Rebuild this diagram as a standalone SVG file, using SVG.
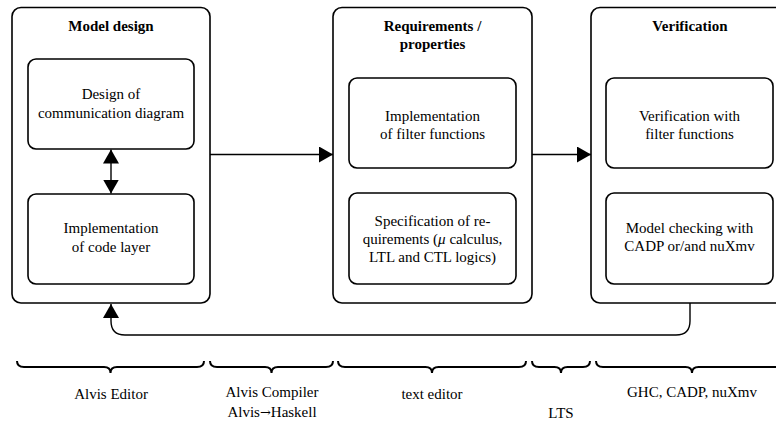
<svg xmlns="http://www.w3.org/2000/svg" width="776" height="422" viewBox="0 0 776 422">
<defs>
<style>
.box{fill:#fff;stroke:#000;stroke-width:1.6}
.conn{fill:none;stroke:#000;stroke-width:1.4}
.brace{fill:none;stroke:#000;stroke-width:2}
text{font-family:"Liberation Serif","Times New Roman",serif;font-size:15px;fill:#000;text-anchor:middle}
.title{font-weight:bold}
.sym{font-family:"DejaVu Serif",serif;font-size:13px}
</style>
<marker id="arr" markerUnits="userSpaceOnUse" markerWidth="14" markerHeight="16" viewBox="0 0 14 16" refX="14" refY="8" orient="auto-start-reverse">
<path d="M0 0 L14 8 L0 16 Z" fill="#000"/>
</marker>
</defs>
<rect width="776" height="422" fill="#fff"/>

<g id="model-design">
<rect class="box" x="12" y="7.5" width="198" height="295.5" rx="9"/>
<text class="title" x="111" y="31">Model design</text>
</g>
<g id="design-comm">
<rect class="box" x="28" y="59" width="166" height="90" rx="8"/>
<text x="111" y="99">Design of</text>
<text x="111" y="118">communication diagram</text>
</g>
<g id="impl-code">
<rect class="box" x="28" y="194" width="166" height="90" rx="8"/>
<text x="111" y="233">Implementation</text>
<text x="111" y="252">of code layer</text>
</g>

<g id="requirements">
<rect class="box" x="333" y="7.5" width="199" height="295.5" rx="9"/>
<text class="title" x="432.5" y="31">Requirements /</text>
<text class="title" x="432.5" y="49">properties</text>
</g>
<g id="impl-filter">
<rect class="box" x="349" y="78" width="167" height="90" rx="8"/>
<text x="432.5" y="121">Implementation</text>
<text x="432.5" y="139">of filter functions</text>
</g>
<g id="spec-req">
<rect class="box" x="349" y="193" width="167" height="91" rx="8"/>
<text x="432.5" y="226">Specification of re-</text>
<text x="432.5" y="244">quirements (<tspan font-style="italic">μ</tspan> calculus,</text>
<text x="432.5" y="262">LTL and CTL logics)</text>
</g>

<g id="verification">
<rect class="box" x="591" y="7.5" width="198" height="295.5" rx="9"/>
<text class="title" x="690" y="31">Verification</text>
</g>
<g id="verif-filter">
<rect class="box" x="606" y="78" width="167" height="90" rx="8"/>
<text x="689.5" y="121">Verification with</text>
<text x="689.5" y="139">filter functions</text>
</g>
<g id="model-checking">
<rect class="box" x="606" y="193" width="167" height="91" rx="8"/>
<text x="689.5" y="233">Model checking with</text>
<text x="689.5" y="251">CADP or/and nuXmv</text>
</g>

<g id="connectors">
<line class="conn" x1="111" y1="149.5" x2="111" y2="193.5" marker-start="url(#arr)" marker-end="url(#arr)"/>
<line class="conn" x1="210" y1="154.5" x2="333" y2="154.5" marker-end="url(#arr)"/>
<line class="conn" x1="532" y1="154.5" x2="591" y2="154.5" marker-end="url(#arr)"/>
<path class="conn" d="M690 303 V321 Q690 335 676 335 H125 Q111 335 111 321 V304" marker-end="url(#arr)"/>
</g>

<g id="braces">
<path class="brace" d="M17 361 Q17 367 24 367 H104 Q110.5 367 110.5 373 Q110.5 367 117 367 H197 Q204 367 204 361"/>
<path class="brace" d="M210 361 Q210 367 217 367 H265 Q271.5 367 271.5 373 Q271.5 367 278 367 H326 Q333 367 333 361"/>
<path class="brace" d="M338 361 Q338 367 345 367 H425.5 Q432 367 432 373 Q432 367 438.5 367 H519 Q526 367 526 361"/>
<path class="brace" d="M532 361 Q532 367 539 367 H554.5 Q561 367 561 373 Q561 367 567.5 367 H583 Q590 367 590 361"/>
<path class="brace" d="M596 361 Q596 367 603 367 H685.5 Q692 367 692 373 Q692 367 698.5 367 H781 Q788 367 788 361"/>
</g>

<g id="labels">
<text x="111" y="399">Alvis Editor</text>
<text x="272" y="397">Alvis Compiler</text>
<text x="272" y="417">Alvis<tspan class="sym">→</tspan>Haskell</text>
<text x="432" y="399">text editor</text>
<text x="561" y="418">LTS</text>
<text x="692" y="397">GHC, CADP, nuXmv</text>
</g>
</svg>
